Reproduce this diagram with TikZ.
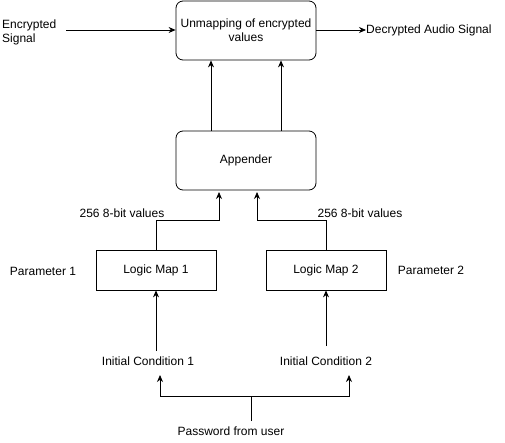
\documentclass[tikz,border=0pt]{standalone}
\usepackage{fontspec}
\setmainfont{Liberation Sans}
\usetikzlibrary{arrows.meta}

\tikzset{
  every node/.style={font=\fontsize{12}{14}\selectfont,inner sep=0pt},
  blockr/.style={draw,line width=0.8pt,rounded corners=7pt,minimum width=140pt,minimum height=59pt,align=center},
  blocks/.style={draw,line width=0.8pt,minimum width=120pt,minimum height=40pt},
  lbl/.style={align=left},
  arr/.style={-{Stealth[length=7pt,width=6pt]},line width=0.8pt}
}

\begin{document}
\begin{tikzpicture}[x=1pt,y=-1pt]
      \useasboundingbox (0,0) rectangle (505,442);

      \node [blockr] (U) at (246,30.5) {Unmapping of encrypted\\values};
      \node [blockr] (A) at (246,160.5) {Appender};
      \node [blocks] (L1) at (156,270) {Logic Map 1};
      \node [blocks] (L2) at (326,270) {Logic Map 2};

      \node [lbl,anchor=west] (ES) at (2,32) {Encrypted\\Signal};
      \node [anchor=west] (DA) at (366,30) {Decrypted Audio Signal};
      \node (V1) at (122,213) {256 8-bit values};
      \node (V2) at (360,213) {256 8-bit values};
      \node (P1) at (43,271) {Parameter 1};
      \node (P2) at (431,270) {Parameter 2};
      \node (I1) at (148,361) {Initial Condition 1};
      \node (I2) at (326,361) {Initial Condition 2};
      \node (PW) at (231,431) {Password from user};

      \coordinate (es) at (66,30);
      \coordinate (a1) at (219,192);
      \coordinate (a2) at (257,192);
      \coordinate (s) at (251,396);
      \coordinate (c1) at (160,375);
      \coordinate (c2) at (349,375);

      \draw [arr] (es) -- (es -| U.west);
      \draw [arr] (es -| U.east) -- (DA.west);
      \foreach \dx in {-35,35}
        \draw [arr] ([xshift=\dx pt]A.north) -- ([xshift=\dx pt]U.south);
      \draw [arr] (L1.north) |- (a1 |- 0,220) -- (a1);
      \draw [arr] (L2.north) |- (a2 |- 0,220) -- (a2);
      \draw [arr] (L1.south |- 0,351) -- (L1.south);
      \draw [arr] (L2.south |- 0,346) -- (L2.south);
      \draw [arr] (s |- 0,421) -- (s) -| (c1);
      \draw [arr] (s) -| (c2);
    \end{tikzpicture}
\end{document}
